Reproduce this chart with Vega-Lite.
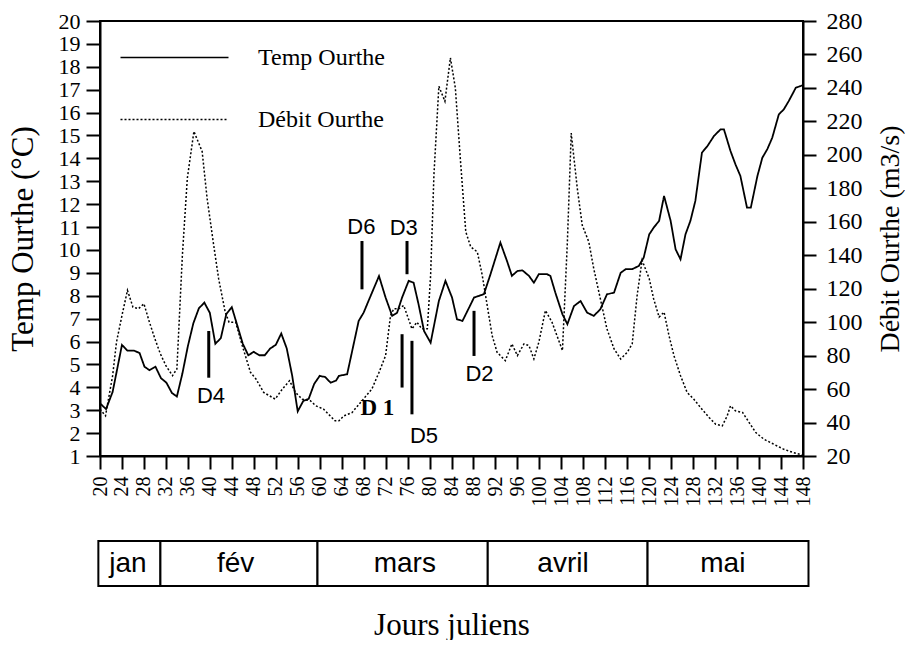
{
  "$schema": "https://vega.github.io/schema/vega-lite/v6.json",
  "background": "white",
  "padding": {"left": 6, "top": 8, "right": 0, "bottom": 0},
  "spacing": 33,
  "config": {
    "font": "Liberation Serif",
    "view": {"stroke": "black", "strokeWidth": 2},
    "axis": {"domainColor": "black", "domainWidth": 2, "tickColor": "black", "tickWidth": 2, "labelColor": "black", "titleColor": "black", "labelFont": "Liberation Serif", "titleFont": "Liberation Serif", "titleFontWeight": "normal", "grid": false, "labelOverlap": false, "labelFlush": false, "labelBound": false},
    "legend": {"labelFont": "Liberation Serif", "labelFontSize": 24, "labelColor": "black", "symbolType": "M0,0H8", "symbolSize": 729, "symbolStrokeColor": "black", "symbolFillColor": "transparent", "symbolStrokeWidth": 1.5, "labelOffset": 123, "rowPadding": 35, "padding": 0, "orient": "none", "legendX": 6, "legendY": 22, "title": null}
  },
  "datasets": {
    "temp": [
      {"day": 20.0, "T": 3.3}, {"day": 21.1, "T": 3.05}, {"day": 22.3, "T": 3.8}, {"day": 24.0, "T": 5.85}, {"day": 25.0, "T": 5.6}, {"day": 26.2, "T": 5.6}, {"day": 27.2, "T": 5.5}, {"day": 28.1, "T": 4.9}, {"day": 29.0, "T": 4.75}, {"day": 30.1, "T": 4.9}, {"day": 31.1, "T": 4.4}, {"day": 32.1, "T": 4.2}, {"day": 33.1, "T": 3.75}, {"day": 34.0, "T": 3.6},
      {"day": 35.0, "T": 4.6}, {"day": 36.0, "T": 5.8}, {"day": 37.0, "T": 6.8}, {"day": 38.0, "T": 7.45}, {"day": 39.0, "T": 7.7}, {"day": 40.0, "T": 7.25}, {"day": 41.0, "T": 5.9}, {"day": 42.0, "T": 6.15}, {"day": 43.0, "T": 7.2}, {"day": 44.0, "T": 7.5}, {"day": 45.0, "T": 6.7}, {"day": 46.0, "T": 5.9}, {"day": 47.0, "T": 5.4}, {"day": 48.0, "T": 5.55}, {"day": 49.0, "T": 5.4}, {"day": 50.0, "T": 5.4}, {"day": 51.0, "T": 5.7}, {"day": 52.0, "T": 5.85}, {"day": 53.0, "T": 6.35}, {"day": 54.0, "T": 5.7}, {"day": 55.0, "T": 4.5}, {"day": 56.0, "T": 2.95}, {"day": 57.0, "T": 3.4}, {"day": 58.0, "T": 3.5}, {"day": 59.0, "T": 4.15}, {"day": 60.0, "T": 4.5}, {"day": 61.0, "T": 4.45}, {"day": 62.0, "T": 4.2}, {"day": 63.0, "T": 4.3}, {"day": 63.5, "T": 4.5}, {"day": 65.0, "T": 4.57},
      {"day": 67.1, "T": 6.9}, {"day": 68.0, "T": 7.26}, {"day": 68.9, "T": 7.78}, {"day": 70.8, "T": 8.86}, {"day": 72.0, "T": 7.92}, {"day": 73.2, "T": 7.12}, {"day": 74.1, "T": 7.26}, {"day": 75.0, "T": 7.92}, {"day": 76.2, "T": 8.65}, {"day": 77.1, "T": 8.57}, {"day": 78.0, "T": 7.63}, {"day": 79.0, "T": 6.46}, {"day": 80.2, "T": 5.95}, {"day": 81.7, "T": 7.77}, {"day": 82.9, "T": 8.65}, {"day": 84.1, "T": 7.92}, {"day": 85.0, "T": 6.97}, {"day": 86.0, "T": 6.9}, {"day": 87.2, "T": 7.48}, {"day": 88.1, "T": 7.92}, {"day": 89.9, "T": 8.07}, {"day": 91.1, "T": 8.94}, {"day": 92.9, "T": 10.32}, {"day": 94.1, "T": 9.52}, {"day": 95.0, "T": 8.87}, {"day": 96.0, "T": 9.08}, {"day": 96.9, "T": 9.11}, {"day": 98.1, "T": 8.87}, {"day": 99.0, "T": 8.57}, {"day": 99.9, "T": 8.94}, {"day": 101.4, "T": 8.94}, {"day": 102.0, "T": 8.87}, {"day": 102.9, "T": 8.14}, {"day": 104.2, "T": 7.19}, {"day": 105.1, "T": 6.76},
      {"day": 106.3, "T": 7.55}, {"day": 107.5, "T": 7.77}, {"day": 108.7, "T": 7.26}, {"day": 109.9, "T": 7.12}, {"day": 111.1, "T": 7.41}, {"day": 112.3, "T": 8.06}, {"day": 113.6, "T": 8.14}, {"day": 114.8, "T": 9.0}, {"day": 115.7, "T": 9.16}, {"day": 116.9, "T": 9.16}, {"day": 118.1, "T": 9.3}, {"day": 119.0, "T": 9.67}, {"day": 120.0, "T": 10.68}, {"day": 120.8, "T": 10.97}, {"day": 121.8, "T": 11.27}, {"day": 122.7, "T": 12.36}, {"day": 123.9, "T": 11.27}, {"day": 124.8, "T": 10.03}, {"day": 125.7, "T": 9.59}, {"day": 126.6, "T": 10.68}, {"day": 127.5, "T": 11.27}, {"day": 128.4, "T": 12.14}, {"day": 129.6, "T": 14.25}, {"day": 130.6, "T": 14.54}, {"day": 131.8, "T": 14.98}, {"day": 133.0, "T": 15.27}, {"day": 133.6, "T": 15.27}, {"day": 134.8, "T": 14.32}, {"day": 135.7, "T": 13.74}, {"day": 136.6, "T": 13.23}, {"day": 137.8, "T": 11.85}, {"day": 138.5, "T": 11.85}, {"day": 139.7, "T": 13.23}, {"day": 140.6, "T": 14.03}, {"day": 141.5, "T": 14.4}, {"day": 142.4, "T": 14.9}, {"day": 143.6, "T": 15.92}, {"day": 144.5, "T": 16.14}, {"day": 145.4, "T": 16.5}, {"day": 146.7, "T": 17.09}, {"day": 147.6, "T": 17.16}, {"day": 148.0, "T": 17.2}
    ],
    "debit": [
      {"day": 20.0, "Q": 48}, {"day": 21.0, "Q": 44}, {"day": 22.3, "Q": 68}, {"day": 23.0, "Q": 88}, {"day": 24.0, "Q": 104}, {"day": 25.0, "Q": 119}, {"day": 26.0, "Q": 109}, {"day": 27.0, "Q": 108}, {"day": 28.0, "Q": 111}, {"day": 29.0, "Q": 100}, {"day": 30.0, "Q": 90}, {"day": 31.0, "Q": 81}, {"day": 32.0, "Q": 74}, {"day": 33.2, "Q": 68}, {"day": 34.0, "Q": 72},
      {"day": 35.0, "Q": 140}, {"day": 35.9, "Q": 186}, {"day": 37.1, "Q": 214}, {"day": 38.6, "Q": 202}, {"day": 39.5, "Q": 174}, {"day": 40.7, "Q": 146}, {"day": 41.6, "Q": 126}, {"day": 42.8, "Q": 106}, {"day": 43.5, "Q": 100}, {"day": 44.7, "Q": 100}, {"day": 45.9, "Q": 86}, {"day": 47.4, "Q": 70}, {"day": 48.4, "Q": 66}, {"day": 49.8, "Q": 58}, {"day": 51.9, "Q": 54}, {"day": 53.2, "Q": 60}, {"day": 54.5, "Q": 65}, {"day": 55.6, "Q": 58}, {"day": 56.8, "Q": 54}, {"day": 58.3, "Q": 53}, {"day": 59.3, "Q": 50}, {"day": 60.7, "Q": 48}, {"day": 62.8, "Q": 41}, {"day": 63.5, "Q": 41}, {"day": 64.4, "Q": 44}, {"day": 65.9, "Q": 46},
      {"day": 69.5, "Q": 60}, {"day": 70.8, "Q": 70}, {"day": 72.0, "Q": 80}, {"day": 72.9, "Q": 104}, {"day": 73.5, "Q": 108}, {"day": 74.4, "Q": 108}, {"day": 75.3, "Q": 110}, {"day": 76.8, "Q": 96}, {"day": 77.7, "Q": 100}, {"day": 78.6, "Q": 96}, {"day": 79.6, "Q": 96}, {"day": 80.2, "Q": 128}, {"day": 80.8, "Q": 188}, {"day": 81.7, "Q": 241}, {"day": 82.8, "Q": 232}, {"day": 83.8, "Q": 258}, {"day": 84.7, "Q": 240}, {"day": 85.6, "Q": 198}, {"day": 86.6, "Q": 154}, {"day": 87.5, "Q": 145}, {"day": 88.7, "Q": 142}, {"day": 89.6, "Q": 128}, {"day": 90.5, "Q": 110}, {"day": 91.4, "Q": 92}, {"day": 92.3, "Q": 82}, {"day": 93.8, "Q": 77}, {"day": 95.0, "Q": 87}, {"day": 96.0, "Q": 80}, {"day": 97.2, "Q": 87}, {"day": 98.1, "Q": 86}, {"day": 99.0, "Q": 78}, {"day": 99.9, "Q": 88}, {"day": 101.1, "Q": 107}, {"day": 102.3, "Q": 100}, {"day": 104.2, "Q": 83}, {"day": 105.1, "Q": 148}, {"day": 105.8, "Q": 213},
      {"day": 106.9, "Q": 180}, {"day": 107.8, "Q": 158}, {"day": 109.0, "Q": 148}, {"day": 109.9, "Q": 132}, {"day": 111.1, "Q": 114}, {"day": 112.3, "Q": 96}, {"day": 113.6, "Q": 84}, {"day": 114.8, "Q": 78}, {"day": 116.0, "Q": 82}, {"day": 116.9, "Q": 87}, {"day": 117.8, "Q": 116}, {"day": 118.7, "Q": 137}, {"day": 120.0, "Q": 126}, {"day": 120.8, "Q": 114}, {"day": 121.8, "Q": 103}, {"day": 122.7, "Q": 106}, {"day": 123.6, "Q": 92}, {"day": 124.5, "Q": 80}, {"day": 125.7, "Q": 68}, {"day": 126.9, "Q": 58}, {"day": 128.1, "Q": 54}, {"day": 129.6, "Q": 48}, {"day": 130.9, "Q": 43}, {"day": 132.1, "Q": 39}, {"day": 133.3, "Q": 38}, {"day": 134.2, "Q": 44}, {"day": 134.8, "Q": 50}, {"day": 135.7, "Q": 47}, {"day": 137.0, "Q": 46}, {"day": 138.2, "Q": 40}, {"day": 139.4, "Q": 34}, {"day": 140.9, "Q": 30}, {"day": 142.7, "Q": 27}, {"day": 144.5, "Q": 24}, {"day": 146.3, "Q": 22}, {"day": 148.0, "Q": 20.5}
    ],
    "bars": [
      {"id": "D6", "day": 67.7, "T": 10.39, "T2": 8.28},
      {"id": "D3", "day": 75.9, "T": 10.39, "T2": 8.94},
      {"id": "D1", "day": 75.0, "T": 6.32, "T2": 3.99},
      {"id": "D5", "day": 76.8, "T": 6.03, "T2": 2.82},
      {"id": "D2", "day": 88.1, "T": 7.34, "T2": 5.37},
      {"id": "D4", "day": 39.8, "T": 6.46, "T2": 4.42}
    ],
    "labels": [
      {"label": "D6", "day": 67.6, "T": 11.02},
      {"label": "D3", "day": 75.3, "T": 10.97},
      {"label": "D5", "day": 79.0, "T": 1.88},
      {"label": "D2", "day": 89.1, "T": 4.57},
      {"label": "D4", "day": 40.2, "T": 3.62}
    ],
    "boldlabels": [
      {"label": "D 1", "day": 70.5, "T": 3.11}
    ],
    "months": [
      {"mois": "jan", "start": 19.7, "end": 31.0, "mid": 25.1},
      {"mois": "fév", "start": 31.0, "end": 59.6, "mid": 44.7},
      {"mois": "mars", "start": 59.6, "end": 90.6, "mid": 75.5},
      {"mois": "avril", "start": 90.6, "end": 119.7, "mid": 104.3},
      {"mois": "mai", "start": 119.7, "end": 149.0, "mid": 133.4}
    ]
  },
  "vconcat": [
    {
      "width": 703,
      "height": 435,
      "encoding": {
        "x": {"field": "day", "type": "quantitative", "scale": {"domain": [20, 148], "nice": false, "zero": false},
          "axis": {"title": null, "values": [20, 24, 28, 32, 36, 40, 44, 48, 52, 56, 60, 64, 68, 72, 76, 80, 84, 88, 92, 96, 100, 104, 108, 112, 116, 120, 124, 128, 132, 136, 140, 144, 148], "labelAngle": -90, "labelFontSize": 20, "tickSize": 13, "labelPadding": 7}}
      },
      "layer": [
        {
          "encoding": {
            "y": {"field": "T", "type": "quantitative", "scale": {"domain": [1, 20], "nice": false, "zero": false},
              "axis": {"title": "Temp Ourthe (°C)", "values": [1, 2, 3, 4, 5, 6, 7, 8, 9, 10, 11, 12, 13, 14, 15, 16, 17, 18, 19, 20], "labelFontSize": 22, "tickSize": 14, "labelPadding": 6, "titleFontSize": 31, "titlePadding": 19}}
          },
          "layer": [
            {
              "data": {"name": "temp"},
              "mark": {"type": "line", "color": "black", "strokeWidth": 1.8},
              "encoding": {"strokeDash": {"datum": "Temp Ourthe", "type": "nominal", "scale": {"domain": ["Temp Ourthe", "Débit Ourthe"], "range": [[1, 0], [2, 2]]}}}
            },
            {
              "data": {"name": "bars"},
              "mark": {"type": "rule", "color": "black", "strokeWidth": 3},
              "encoding": {"y2": {"field": "T2"}}
            },
            {
              "data": {"name": "labels"},
              "mark": {"type": "text", "font": "Liberation Sans", "fontSize": 22, "color": "black", "align": "center", "baseline": "middle"},
              "encoding": {"text": {"field": "label"}}
            },
            {
              "data": {"name": "boldlabels"},
              "mark": {"type": "text", "font": "Liberation Serif", "fontWeight": "bold", "fontSize": 23, "color": "black", "align": "center", "baseline": "middle"},
              "encoding": {"text": {"field": "label"}}
            }
          ]
        },
        {
          "data": {"name": "debit"},
          "mark": {"type": "line", "color": "black", "strokeWidth": 1.5},
          "encoding": {
            "y": {"field": "Q", "type": "quantitative", "scale": {"domain": [20, 280], "nice": false, "zero": false},
              "axis": {"orient": "right", "title": "Débit Ourthe (m3/s)", "values": [20, 40, 60, 80, 100, 120, 140, 160, 180, 200, 220, 240, 260, 280], "labelFontSize": 24, "tickSize": 13, "labelPadding": 10, "titleFontSize": 28, "titlePadding": 14, "titleAngle": 270, "titleBaseline": "top"}},
            "strokeDash": {"datum": "Débit Ourthe", "type": "nominal"}
          }
        }
      ],
      "resolve": {"scale": {"y": "independent"}}
    },
    {
      "width": 703,
      "height": 45,
      "view": {"stroke": null},
      "data": {"name": "months"},
      "encoding": {
        "x": {"field": "start", "type": "quantitative", "scale": {"domain": [20, 148], "nice": false, "zero": false},
          "axis": {"title": "Jours juliens", "labels": false, "ticks": false, "domain": false, "titleFontSize": 31, "titlePadding": 24}}
      },
      "layer": [
        {
          "mark": {"type": "rect", "fill": "white", "stroke": "black", "strokeWidth": 2},
          "encoding": {
            "x2": {"field": "end"},
            "y": {"datum": 0, "type": "quantitative", "scale": {"domain": [0, 1]}, "axis": null},
            "y2": {"datum": 1}
          }
        },
        {
          "mark": {"type": "text", "font": "Liberation Sans", "fontSize": 28, "color": "black", "align": "center", "baseline": "middle"},
          "encoding": {
            "x": {"field": "mid", "type": "quantitative"},
            "y": {"datum": 0.5, "type": "quantitative", "scale": {"domain": [0, 1]}, "axis": null},
            "text": {"field": "mois"}
          }
        }
      ]
    }
  ]
}
